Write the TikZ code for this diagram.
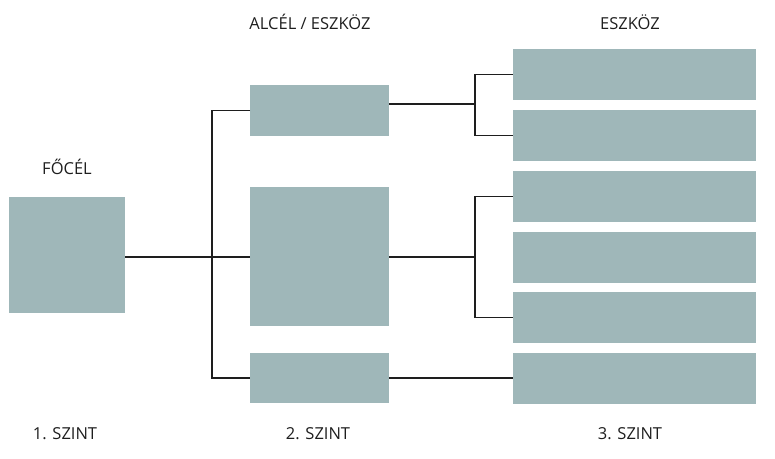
\documentclass[tikz,border=0pt]{standalone}
\usepackage{fontspec}
\setmainfont{Open Sans}
\definecolor{boxc}{HTML}{9FB7B9}
\definecolor{linec}{HTML}{1E1E1E}
\begin{document}
\begin{tikzpicture}[x=1pt,y=-1pt,
  box/.style={fill=boxc,draw=none,inner sep=0pt,outer sep=0pt,anchor=north west},
  conn/.style={draw=linec,line width=1.4pt},
  lbl/.style={anchor=base,inner sep=0pt,font=\fontsize{16.5}{19}\selectfont,text=linec}]
\useasboundingbox (0,0) rectangle (775,458);
% level 1
\node[box,minimum width=116pt,minimum height=116pt] (f) at (9,197) {};
% level 2
\node[box,minimum width=139pt,minimum height=51pt] (a) at (250,85) {};
\node[box,minimum width=139pt,minimum height=139pt] (b) at (250,187) {};
\node[box,minimum width=139pt,minimum height=50pt] (c) at (250,353) {};
% level 3
\node[box,minimum width=243pt,minimum height=51pt] (r1) at (513,49) {};
\node[box,minimum width=243pt,minimum height=51pt] (r2) at (513,110) {};
\node[box,minimum width=243pt,minimum height=51pt] (r3) at (513,171) {};
\node[box,minimum width=243pt,minimum height=51pt] (r4) at (513,232) {};
\node[box,minimum width=243pt,minimum height=51pt] (r5) at (513,292) {};
\node[box,minimum width=243pt,minimum height=51pt] (r6) at (513,353) {};
% junctions
\coordinate (j1) at (212,257);
\coordinate (j2) at (475,104);
\coordinate (j3) at (475,257);
% connectors
\draw[conn] (f.east |- j1) -- (b.west |- j1);
\draw[conn] (a.west) -| (j1) |- (c.west);
\draw[conn] (a.east |- j2) -- (j2);
\draw[conn] (r1.west) -| (j2) |- (r2.west);
\draw[conn] (b.east |- j3) -- (j3);
\draw[conn] (r3.west) -| (j3) |- (r5.west);
\draw[conn] (c.east) -- (c.east -| r6.west);
% labels
\node[lbl] (t1) at (67,174) {FŐCÉL};
\node[lbl] (t2) at (310,29) {ALCÉL / ESZKÖZ};
\node[lbl] (t3) at (630,29) {ESZKÖZ};
\node[lbl] (s1) at (65,439) {1. SZINT};
\node[lbl] (s2) at (318,439) {2. SZINT};
\node[lbl] (s3) at (630,439) {3. SZINT};
\end{tikzpicture}
\end{document}
